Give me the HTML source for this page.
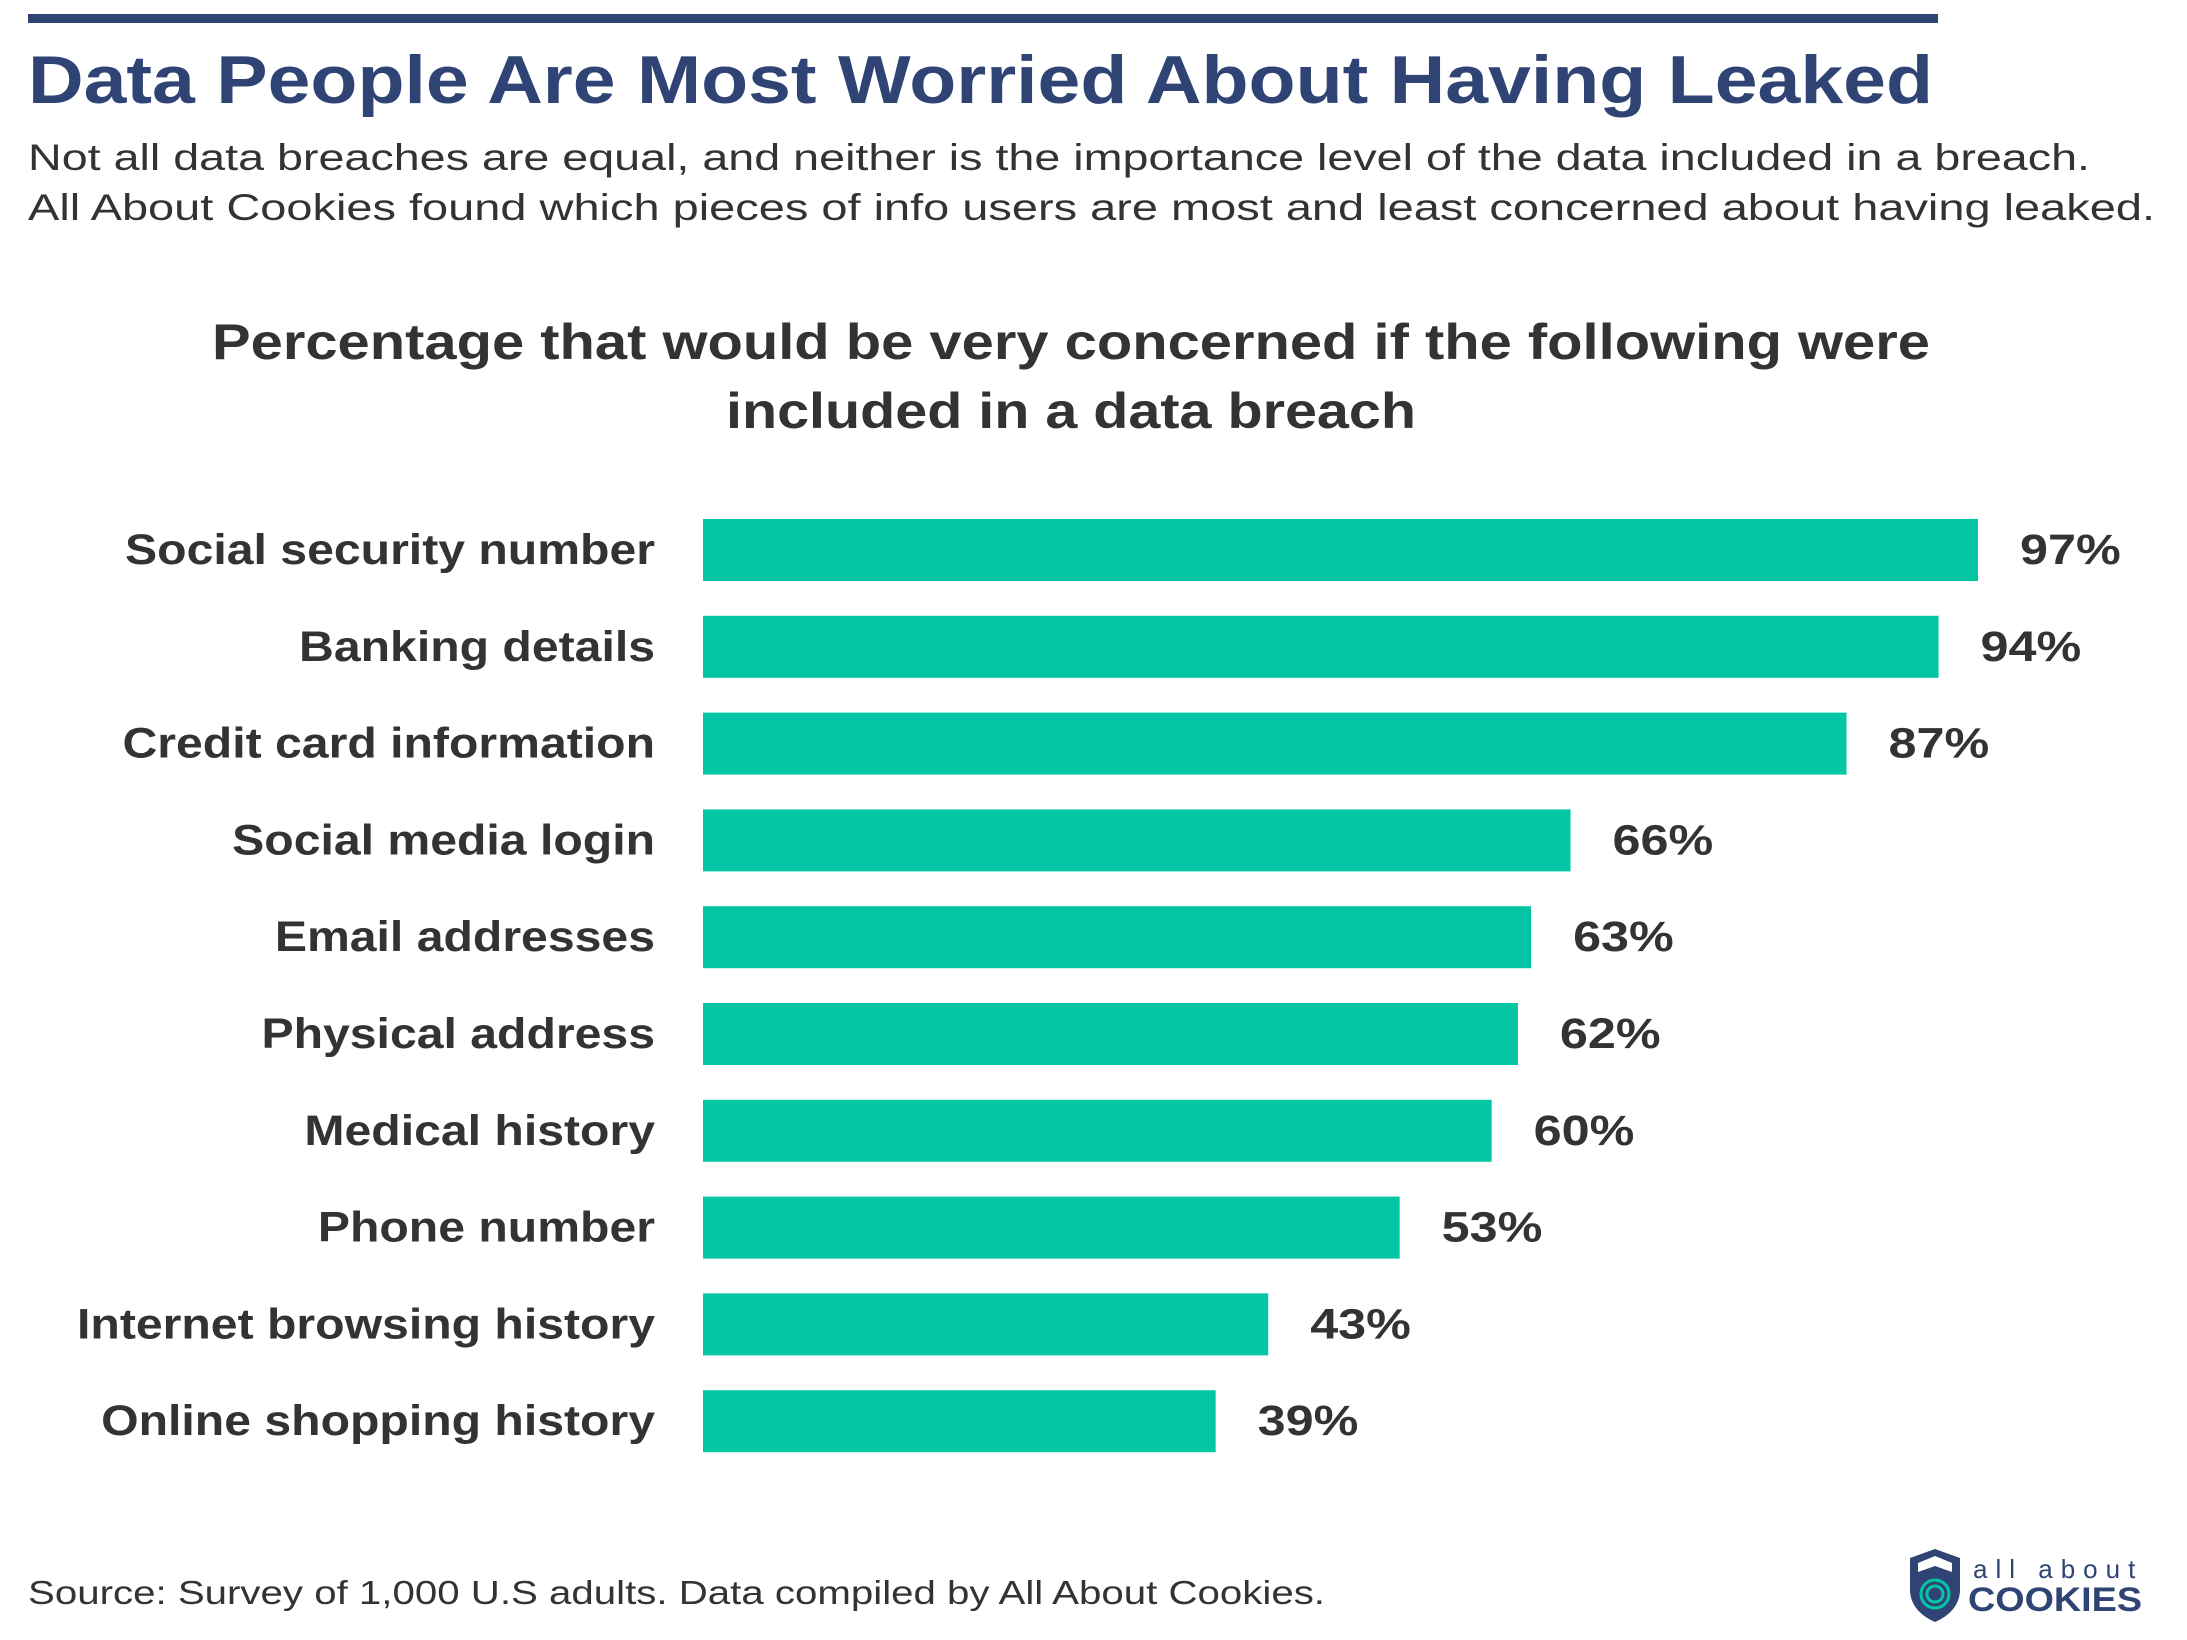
<!DOCTYPE html>
<html><head><meta charset="utf-8"><style>
html,body{margin:0;padding:0;background:#fff;}
svg{display:block;font-family:"Liberation Sans",sans-serif;}
</style></head><body>
<svg id="chart" width="2187" height="1640" viewBox="0 0 2187 1640">
<rect x="28" y="14" width="1910" height="9" fill="#2f4474"/>
<text x="28" y="103" font-size="68" font-weight="bold" fill="#2f4474" textLength="1905" lengthAdjust="spacingAndGlyphs">Data People Are Most Worried About Having Leaked</text>
<text x="28" y="170" font-size="37" fill="#333" textLength="2062" lengthAdjust="spacingAndGlyphs">Not all data breaches are equal, and neither is the importance level of the data included in a breach.</text>
<text x="28" y="220" font-size="37" fill="#333" textLength="2127" lengthAdjust="spacingAndGlyphs">All About Cookies found which pieces of info users are most and least concerned about having leaked.</text>
<text x="1071" y="359" font-size="50" font-weight="bold" fill="#333" text-anchor="middle" textLength="1718" lengthAdjust="spacingAndGlyphs">Percentage that would be very concerned if the following were</text>
<text x="1071" y="428" font-size="50" font-weight="bold" fill="#333" text-anchor="middle" textLength="690" lengthAdjust="spacingAndGlyphs">included in a data breach</text>
<g id="bars"></g>
<text x="28" y="1604" font-size="33" fill="#333" textLength="1297" lengthAdjust="spacingAndGlyphs">Source: Survey of 1,000 U.S adults.  Data compiled by All About Cookies.</text>
<g>
<path d="M1910 1558 L1935 1549 L1960 1558 L1960 1592 Q1958 1612 1935 1622 Q1912 1612 1910 1592 Z" fill="#2f4474"/>
<path d="M1918 1563 L1935 1556 L1952 1563 L1952 1572 L1935 1566 L1918 1572 Z" fill="#fff"/>
<circle cx="1935" cy="1594" r="14" fill="none" stroke="#04c6a5" stroke-width="3"/>
<circle cx="1935" cy="1594" r="8" fill="none" stroke="#04c6a5" stroke-width="3"/>
<text x="1973" y="1578" font-size="26" fill="#2f4474" letter-spacing="8">all about</text>
<text x="1968" y="1611" font-size="34" font-weight="bold" fill="#2f4474" textLength="174" lengthAdjust="spacingAndGlyphs">COOKIES</text>
</g>
</svg>
<script>
const categories = ["Social security number","Banking details","Credit card information","Social media login","Email addresses","Physical address","Medical history","Phone number","Internet browsing history","Online shopping history"];
const values = [97,94,87,66,63,62,60,53,43,39];
const valueLabels = ["97%","94%","87%","66%","63%","62%","60%","53%","43%","39%"];
const NS = "http://www.w3.org/2000/svg";
const x0 = 703, pxPer = (1978-703)/97;
function xScale(v){ return x0 + v*pxPer; }
function yScale(i){ return 519 + i*96.8; }
const g = document.getElementById('bars');
categories.forEach((c,i)=>{
  const y = yScale(i);
  const r = document.createElementNS(NS,'rect');
  r.setAttribute('x',x0); r.setAttribute('y',y);
  r.setAttribute('width',xScale(values[i])-x0); r.setAttribute('height',62);
  r.setAttribute('fill','#04c6a5');
  
  
  g.appendChild(r);
  const t = document.createElementNS(NS,'text');
  t.setAttribute('x',655); t.setAttribute('y',y+45);
  t.setAttribute('text-anchor','end'); t.setAttribute('font-size','43');
  t.setAttribute('font-weight','bold'); t.setAttribute('fill','#333');
  t.textContent = c;
  
  
  g.appendChild(t);
  t.setAttribute('textLength', t.getComputedTextLength()*1.12);
  t.setAttribute('lengthAdjust','spacingAndGlyphs');
  const v = document.createElementNS(NS,'text');
  v.setAttribute('x',xScale(values[i])+42); v.setAttribute('y',y+45);
  v.setAttribute('font-size','43'); v.setAttribute('font-weight','bold'); v.setAttribute('fill','#333');
  v.textContent = valueLabels[i];
  
  
  g.appendChild(v);
  v.setAttribute('textLength', v.getComputedTextLength()*1.17);
  v.setAttribute('lengthAdjust','spacingAndGlyphs');
});
</script>
</body></html>
